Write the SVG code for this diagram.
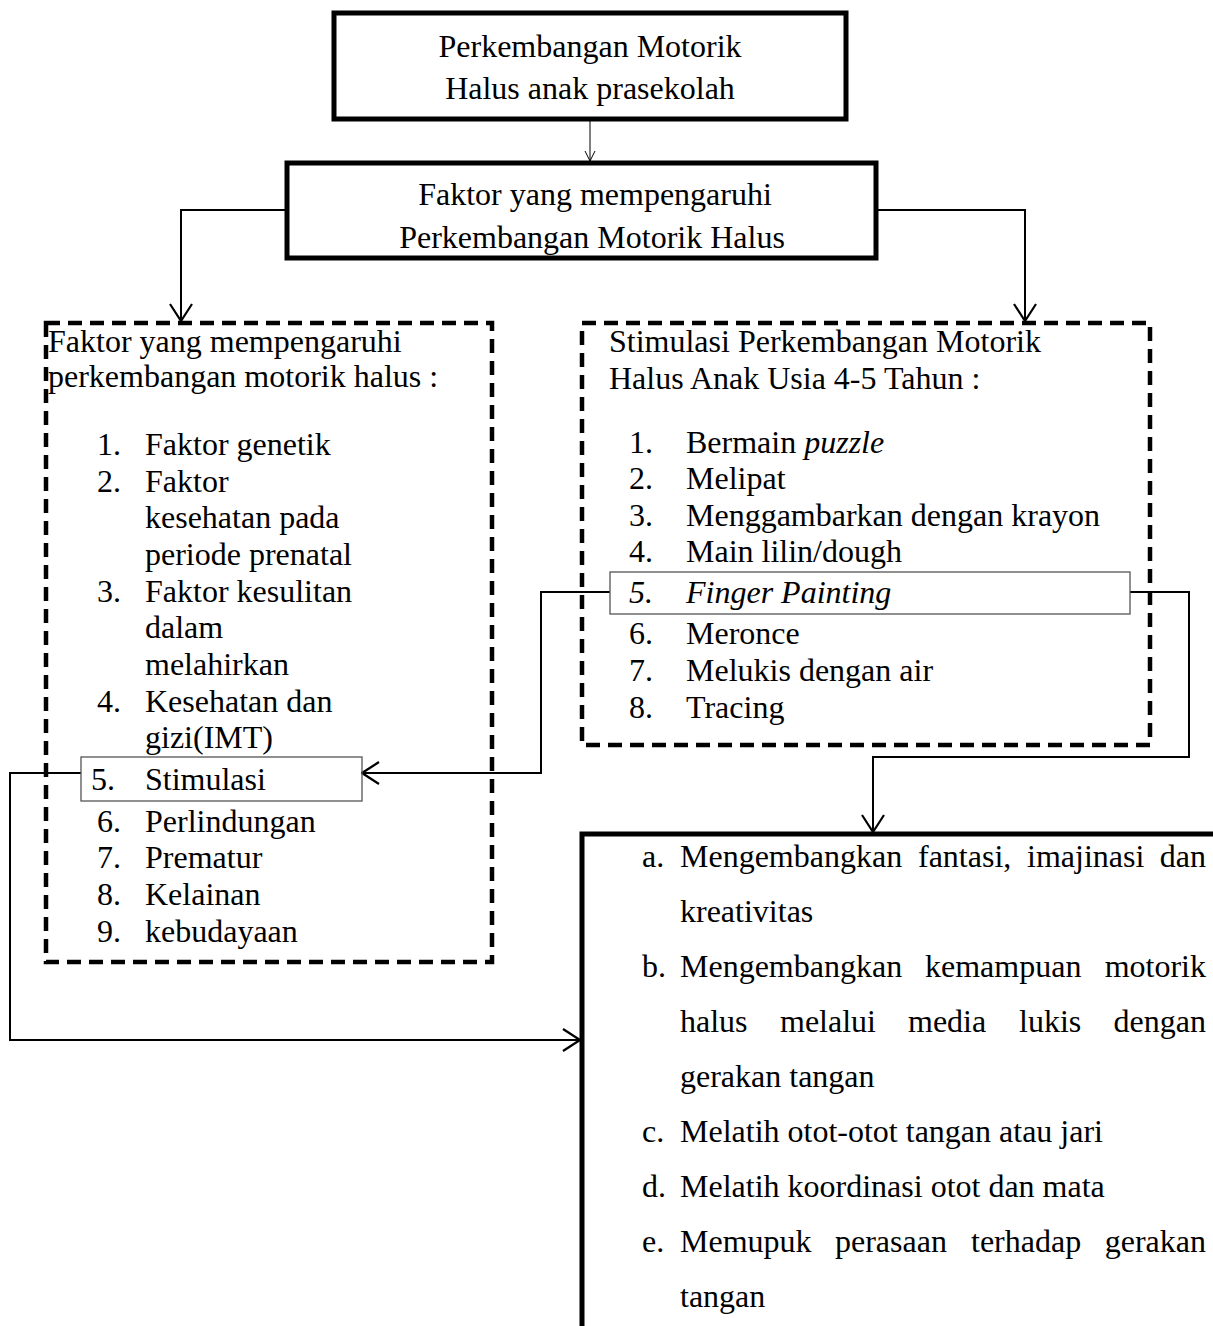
<svg xmlns="http://www.w3.org/2000/svg" width="1213" height="1326" viewBox="0 0 1213 1326">
<style>
text{font-family:"Liberation Serif","Times New Roman",serif;font-size:32px;fill:#000}
.c{text-anchor:middle}
.e{text-anchor:end}
.i{font-style:italic}
.thick{fill:#fff;stroke:#000;stroke-width:5}
.dash{fill:none;stroke:#000;stroke-width:4.5;stroke-dasharray:14 8}
.thin{fill:none;stroke:#555;stroke-width:1.3}
.conn{fill:none;stroke:#000;stroke-width:2}
.conn1{fill:none;stroke:#000;stroke-width:1}
</style>
<defs>
<marker id="ah" viewBox="0 0 20 24" refX="19" refY="12" markerWidth="20" markerHeight="24" markerUnits="userSpaceOnUse" orient="auto">
<path d="M2,1 L19,12 L2,23" fill="none" stroke="#000" stroke-width="2.2"/>
</marker>
<marker id="ahs" viewBox="0 0 12 12" refX="11" refY="6" markerWidth="12" markerHeight="12" markerUnits="userSpaceOnUse" orient="auto">
<path d="M1,1 L11,6 L1,11" fill="none" stroke="#000" stroke-width="1"/>
</marker>
</defs>
<rect width="1213" height="1326" fill="#fff"/>
<g id="connectors">
<path class="conn1" d="M590,119 V161" marker-end="url(#ahs)"/>
<path class="conn" d="M287,210 H181 V321" marker-end="url(#ah)"/>
<path class="conn" d="M876,210 H1025 V321" marker-end="url(#ah)"/>
<path class="conn" d="M610,592 H541 V773 H362" marker-end="url(#ah)"/>
<path class="conn" d="M1130,592 H1189 V757 H873 V832" marker-end="url(#ah)"/>
<path class="conn" d="M81,773 H10 V1040 H580" marker-end="url(#ah)"/>
</g>
<g id="node-top">
<rect class="thick" x="334" y="13" width="512" height="106"/>
<text class="c" x="590" y="57">Perkembangan Motorik</text>
<text class="c" x="590" y="99">Halus anak prasekolah</text>
</g>
<g id="node-faktor">
<rect class="thick" x="287" y="163" width="589" height="95"/>
<text class="c" x="595" y="205">Faktor yang mempengaruhi</text>
<text class="c" x="592" y="248">Perkembangan Motorik Halus</text>
</g>
<g id="node-left">
<rect class="dash" x="46" y="323" width="446" height="639"/>
<text x="48" y="352">Faktor yang mempengaruhi</text>
<text x="48" y="387">perkembangan motorik halus :</text>
<text x="97" y="455">1.</text><text x="145" y="455">Faktor genetik</text>
<text x="97" y="492">2.</text><text x="145" y="492">Faktor</text>
<text x="145" y="528">kesehatan pada</text>
<text x="145" y="565">periode prenatal</text>
<text x="97" y="602">3.</text><text x="145" y="602">Faktor kesulitan</text>
<text x="145" y="638">dalam</text>
<text x="145" y="675">melahirkan</text>
<text x="97" y="712">4.</text><text x="145" y="712">Kesehatan dan</text>
<text x="145" y="748">gizi(IMT)</text>
<text x="97" y="832">6.</text><text x="145" y="832">Perlindungan</text>
<text x="97" y="868">7.</text><text x="145" y="868">Prematur</text>
<text x="97" y="905">8.</text><text x="145" y="905">Kelainan</text>
<text x="97" y="942">9.</text><text x="145" y="942">kebudayaan</text>
</g>
<g id="node-stimulasi">
<rect class="thin" x="81" y="757" width="281" height="44" fill="#fff"/>
<text x="91" y="790">5.</text><text x="145" y="790">Stimulasi</text>
</g>
<g id="node-right">
<rect class="dash" x="582" y="323" width="568" height="422"/>
<text x="609" y="352">Stimulasi Perkembangan Motorik</text>
<text x="609" y="389">Halus Anak Usia 4-5 Tahun :</text>
<text x="629" y="453">1.</text><text x="686" y="453">Bermain <tspan class="i">puzzle</tspan></text>
<text x="629" y="489">2.</text><text x="686" y="489">Melipat</text>
<text x="629" y="526">3.</text><text x="686" y="526">Menggambarkan dengan krayon</text>
<text x="629" y="562">4.</text><text x="686" y="562">Main lilin/dough</text>
<text x="629" y="644">6.</text><text x="686" y="644">Meronce</text>
<text x="629" y="681">7.</text><text x="686" y="681">Melukis dengan air</text>
<text x="629" y="718">8.</text><text x="686" y="718">Tracing</text>
</g>
<g id="node-finger">
<rect class="thin" x="610" y="572" width="520" height="42" fill="#fff"/>
<text class="i" x="629" y="603">5.</text><text class="i" x="686" y="603">Finger Painting</text>
</g>
<g id="node-bottom">
<rect class="thick" x="582" y="834" width="700" height="600"/>
<text x="642" y="867">a.</text>
<text x="680" y="867">Mengembangkan</text><text x="918" y="867">fantasi,</text><text x="1027" y="867">imajinasi</text><text class="e" x="1206" y="867">dan</text>
<text x="680" y="922">kreativitas</text>
<text x="642" y="977">b.</text>
<text x="680" y="977">Mengembangkan</text><text x="925" y="977">kemampuan</text><text class="e" x="1206" y="977">motorik</text>
<text x="680" y="1032">halus</text><text x="780" y="1032">melalui</text><text x="908" y="1032">media</text><text x="1019" y="1032">lukis</text><text class="e" x="1206" y="1032">dengan</text>
<text x="680" y="1087">gerakan tangan</text>
<text x="642" y="1142">c.</text><text x="680" y="1142">Melatih otot-otot tangan atau jari</text>
<text x="642" y="1197">d.</text><text x="680" y="1197">Melatih koordinasi otot dan mata</text>
<text x="642" y="1252">e.</text>
<text x="680" y="1252">Memupuk</text><text x="835" y="1252">perasaan</text><text x="971" y="1252">terhadap</text><text class="e" x="1206" y="1252">gerakan</text>
<text x="680" y="1307">tangan</text>
</g>
</svg>
